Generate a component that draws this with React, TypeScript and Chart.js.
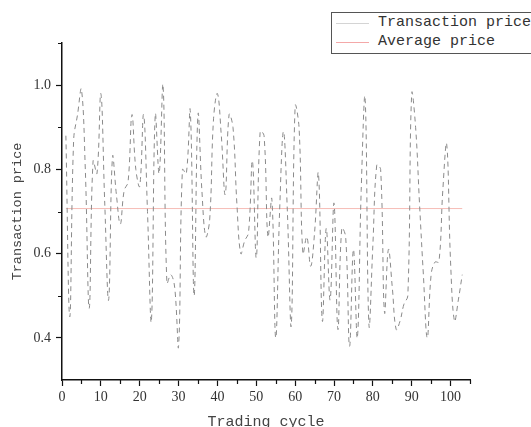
import React, { useEffect, useRef } from 'react';
import { Chart, registerables } from 'chart.js';

Chart.register(...registerables);

const cycles = [
  1, 2, 3, 4, 5, 6, 7, 8, 9, 10, 11, 12, 13, 14, 15, 16, 17, 18, 19, 20,
  21, 22, 23, 24, 25, 26, 27, 28, 29, 30, 31, 32, 33, 34, 35, 36, 37, 38, 39, 40,
  41, 42, 43, 44, 45, 46, 47, 48, 49, 50, 51, 52, 53, 54, 55, 56, 57, 58, 59, 60,
  61, 62, 63, 64, 65, 66, 67, 68, 69, 70, 71, 72, 73, 74, 75, 76, 77, 78, 79, 80,
  81, 82, 83, 84, 85, 86, 87, 88, 89, 90, 91, 92, 93, 94, 95, 96, 97, 98, 99, 100,
  101, 102, 103,
];

const prices = [
  0.88, 0.45, 0.87, 0.93, 0.99, 0.80, 0.47, 0.82, 0.79, 0.98,
  0.72, 0.49, 0.83, 0.74, 0.67, 0.75, 0.77, 0.93, 0.80, 0.76,
  0.93, 0.70, 0.44, 0.93, 0.79, 1.00, 0.53, 0.55, 0.52, 0.38,
  0.80, 0.79, 0.94, 0.50, 0.93, 0.75, 0.64, 0.68, 0.92, 0.98,
  0.88, 0.74, 0.93, 0.90, 0.72, 0.60, 0.63, 0.65, 0.82, 0.59,
  0.89, 0.88, 0.64, 0.73, 0.40, 0.70, 0.89, 0.70, 0.43, 0.95,
  0.90, 0.60, 0.64, 0.57, 0.65, 0.79, 0.44, 0.66, 0.49, 0.72,
  0.42, 0.66, 0.64, 0.38, 0.61, 0.40, 0.75, 0.97, 0.43, 0.62,
  0.81, 0.80, 0.46, 0.61, 0.52, 0.42, 0.44, 0.48, 0.50, 0.98,
  0.90, 0.72, 0.55, 0.40, 0.55, 0.58, 0.58, 0.75, 0.86, 0.58,
  0.44, 0.49, 0.55,
];

const averagePrice = 0.707;
const averageSpan = [1, 103];

const xMajorTicks = [0, 10, 20, 30, 40, 50, 60, 70, 80, 90, 100];
const xMinorTicks = [5, 15, 25, 35, 45, 55, 65, 75, 85, 95, 105];
const yMajorTicks = [0.4, 0.6, 0.8, 1.0];
const yMinorTicks = [0.5, 0.7, 0.9, 1.1];

const seriesLabels = ['Transaction price', 'Average price'];
const axisTitles = { x: 'Trading cycle', y: 'Transaction price' };

const minorTickPlugin = {
  id: 'minorTicks',
  afterDraw(chart: any) {
    const ctx = chart.ctx;
    const xs = chart.scales.x;
    const ys = chart.scales.y;
    ctx.save();
    ctx.strokeStyle = '#111';
    ctx.lineWidth = 1.2;
    ctx.beginPath();
    xMinorTicks.forEach((v) => {
      const px = Math.round(xs.getPixelForValue(v)) + 0.5;
      ctx.moveTo(px, xs.top);
      ctx.lineTo(px, xs.top + 4);
    });
    yMinorTicks.forEach((v) => {
      const py = Math.round(ys.getPixelForValue(v)) + 0.5;
      ctx.moveTo(ys.right, py);
      ctx.lineTo(ys.right - 4, py);
    });
    ctx.stroke();
    ctx.restore();
  },
};

export default function App() {
  const canvasRef = useRef<HTMLCanvasElement | null>(null);

  useEffect(() => {
    document.body.style.margin = '0';
    document.body.style.overflow = 'hidden';
    const canvas = canvasRef.current;
    if (!canvas) return;
    const chart = new Chart(canvas, {
      type: 'line',
      data: {
        datasets: [
          {
            label: seriesLabels[0],
            data: cycles.map((c, i) => ({ x: c, y: prices[i] })),
            borderColor: '#8a8a8a',
            borderWidth: 1,
            borderDash: [5, 4],
            pointRadius: 0,
            tension: 0.4,
            fill: false,
          },
          {
            label: seriesLabels[1],
            data: averageSpan.map((c) => ({ x: c, y: averagePrice })),
            borderColor: '#f6bcb6',
            borderWidth: 1,
            pointRadius: 0,
            fill: false,
          },
        ],
      },
      options: {
        animation: false,
        responsive: false,
        maintainAspectRatio: false,
        layout: { padding: { left: 0, top: 43, right: 61, bottom: 0 } },
        plugins: { legend: { display: false }, tooltip: { enabled: false } },
        scales: {
          x: {
            type: 'linear',
            min: 0,
            max: 105,
            afterBuildTicks: (scale: any) => {
              scale.ticks = xMajorTicks.map((v) => ({ value: v }));
            },
            afterFit: (scale: any) => {
              scale.height = 60;
            },
            grid: {
              drawOnChartArea: false,
              drawTicks: true,
              tickLength: 6,
              tickColor: '#111',
              tickWidth: 1.2,
            },
            border: { display: true, color: '#111', width: 1.5 },
            ticks: {
              color: '#333',
              padding: 3,
              maxRotation: 0,
              autoSkip: false,
              font: { family: 'Liberation Serif', size: 14 },
              callback: (v: any) => String(v),
            },
            title: {
              display: true,
              text: axisTitles.x,
              color: '#444',
              font: { family: 'Liberation Mono', size: 15 },
              padding: { top: 0, bottom: 9 },
            },
          },
          y: {
            type: 'linear',
            min: 0.3,
            max: 1.1,
            afterBuildTicks: (scale: any) => {
              scale.ticks = yMajorTicks.map((v) => ({ value: v }));
            },
            afterFit: (scale: any) => {
              scale.width = 62;
            },
            grid: {
              drawOnChartArea: false,
              drawTicks: true,
              tickLength: 6,
              tickColor: '#111',
              tickWidth: 1.2,
            },
            border: { display: true, color: '#111', width: 1.5 },
            ticks: {
              color: '#333',
              padding: 5,
              autoSkip: false,
              font: { family: 'Liberation Serif', size: 14 },
              callback: (v: any) => Number(v).toFixed(1),
            },
            title: {
              display: true,
              text: axisTitles.y,
              color: '#444',
              font: { family: 'Liberation Mono', size: 13.5 },
              padding: { top: 9, bottom: 0 },
            },
          },
        },
      },
      plugins: [minorTickPlugin],
    });
    return () => chart.destroy();
  }, []);

  const legendText: React.CSSProperties = {
    position: 'absolute',
    left: 46,
    fontFamily: 'Liberation Mono',
    fontSize: 15,
    color: '#333',
    lineHeight: '18px',
    whiteSpace: 'nowrap',
  };

  return (
    <div style={{ position: 'fixed', left: 0, top: 0, width: 531, height: 427, overflow: 'hidden', background: '#fff' }}>
      <canvas ref={canvasRef} width={531} height={440} style={{ display: 'block', width: 531, height: 440 }} />
      <div
        style={{
          position: 'absolute',
          left: 331,
          top: 12,
          width: 230,
          height: 42,
          border: '1px solid #555',
          boxSizing: 'border-box',
          background: '#fff',
        }}
      >
        <div style={{ position: 'absolute', left: 4, top: 10, width: 33, height: 1, background: '#d4d4d4' }} />
        <div style={{ ...legendText, top: 1 }}>{seriesLabels[0]}</div>
        <div style={{ position: 'absolute', left: 4, top: 29, width: 33, height: 1, background: '#f4a8a8' }} />
        <div style={{ ...legendText, top: 20 }}>{seriesLabels[1]}</div>
      </div>
    </div>
  );
}
